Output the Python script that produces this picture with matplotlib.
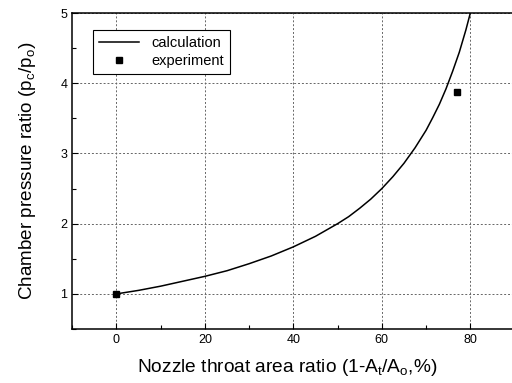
import matplotlib.pyplot as plt
from matplotlib.ticker import MultipleLocator

plt.rcParams['font.family'] = ['Liberation Sans', 'DejaVu Sans']
plt.rcParams['mathtext.default'] = 'regular'

# calculation curve
calc_x = [0, 5, 10, 15, 20, 25, 30, 35, 40, 45, 50, 52.5, 55, 57.5, 60, 62.5,
          65, 67.5, 70, 71.5, 73, 74.5, 76, 77.5, 79, 80]
calc_y = [1.0, 1.05, 1.11, 1.18, 1.25, 1.33, 1.43, 1.54, 1.67, 1.82, 2.0, 2.1,
          2.22, 2.35, 2.5, 2.67, 2.86, 3.08, 3.33, 3.51, 3.70, 3.92, 4.17, 4.44,
          4.76, 5.0]

# experiment points
exp_x = [0, 77]
exp_y = [1.0, 3.87]

fig = plt.figure(figsize=(5.12, 3.83), dpi=100)
ax = fig.add_axes([0.141, 0.141, 0.864, 0.825])

ax.plot(calc_x, calc_y, color='black', linewidth=1.1, label='calculation')
ax.plot(exp_x, exp_y, 's', color='black', markersize=5, linestyle='none',
        label='experiment', clip_on=False)

ax.set_xlim(-10, 90)
ax.set_ylim(0.5, 5)
ax.xaxis.set_minor_locator(MultipleLocator(10))
ax.yaxis.set_major_locator(MultipleLocator(1))
ax.yaxis.set_minor_locator(MultipleLocator(0.5))
ax.set_xticks([0, 20, 40, 60, 80])
ax.set_xticklabels(['0', '20', '40', '60', '80'])

ax.tick_params(which='both', direction='in', top=False, right=False, labelsize=9)
ax.tick_params(which='major', length=4, width=0.8)
ax.tick_params(which='minor', length=3, width=0.8)
ax.grid(True, which='major', linestyle=(0, (2, 2)), color='#666666', linewidth=0.7)

for s in ax.spines.values():
    s.set_linewidth(1.1)
ax.spines['right'].set_visible(False)

ax.set_xlabel('Nozzle throat area ratio (1-A$_t$/A$_o$,%)', fontsize=13.8, labelpad=8)
ax.xaxis.set_label_coords(0.485, -0.09)
ax.set_ylabel('Chamber pressure ratio (p$_c$/p$_o$)', fontsize=13.6, labelpad=16)

leg = ax.legend(loc='upper left', bbox_to_anchor=(0.03, 0.97), fontsize=10.5,
                fancybox=False, framealpha=1, edgecolor='black', markerscale=0.75,
                handlelength=2.8, borderpad=0.4, labelspacing=0.3)
leg.get_frame().set_linewidth(0.8)

fig.savefig('out.png', dpi=100)
